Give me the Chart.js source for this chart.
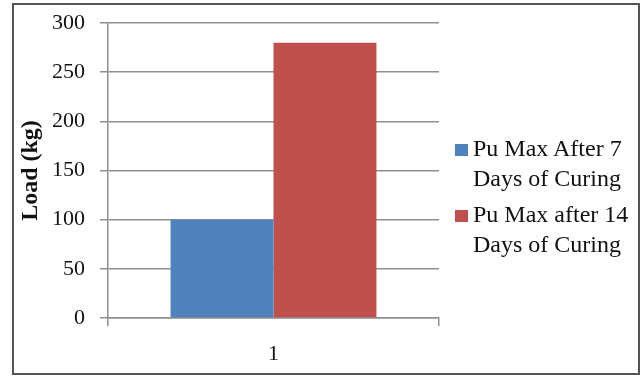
<!DOCTYPE html>
<html>
<head>
<meta charset="utf-8">
<script src="https://cdn.jsdelivr.net/npm/chart.js@4"></script>
<style>
  html, body { margin: 0; padding: 0; background: #fff; }
  #wrap { position: relative; width: 643px; height: 376px; }
  #frame {
    position: absolute; left: 12px; top: 3px; width: 624px; height: 368px;
    border: 2px solid #555; pointer-events: none;
  }
  canvas { position: absolute; left: 0; top: 0; }
  #legend {
    position: absolute; left: 455px; top: 134px;
    font-family: 'Liberation Serif', 'Times New Roman', serif;
    font-size: 24px; line-height: 29.5px; color: #111;
  }
  .item { position: absolute; left: 0; white-space: nowrap; }
  .swatch { position: absolute; left: 0; top: 10px; width: 13px; height: 12px; }
  .text { position: absolute; left: 18px; top: 0; }
</style>
</head>
<body>
<div id="wrap">
  <canvas id="chart" width="643" height="376"></canvas>
  <div id="legend"></div>
  <div id="frame"></div>
</div>
<script>
// Categories and series
const categories = ['1'];
const series7DayLabel = ['Pu Max After 7', 'Days of Curing'];
const series14DayLabel = ['Pu Max after 14', 'Days of Curing'];
const pu7Days = [100];
const pu14Days = [280];
const yTicks = [0, 50, 100, 150, 200, 250, 300];

const serif = "'Liberation Serif', 'Times New Roman', serif";
const gridGray = '#8e8e8e';

const chart = new Chart(document.getElementById('chart'), {
  type: 'bar',
  data: {
    labels: categories,
    datasets: [
      { label: series7DayLabel, data: pu7Days, backgroundColor: '#4F81BD' },
      { label: series14DayLabel, data: pu14Days, backgroundColor: '#C0504D' }
    ]
  },
  options: {
    responsive: false,
    animation: false,
    layout: { padding: { left: 14, top: 23, right: 204, bottom: 4 } },
    datasets: { bar: { categoryPercentage: 0.622, barPercentage: 1.0 } },
    scales: {
      x: {
        offset: true,
        grid: {
          offset: true, drawOnChartArea: false, drawTicks: true,
          tickLength: 8, color: gridGray, lineWidth: 1.5
        },
        border: { color: gridGray, width: 1.5 },
        ticks: { font: { family: serif, size: 22 }, color: '#111', padding: 15 },
        afterFit: (s) => { s.height = 54; }
      },
      y: {
        min: yTicks[0],
        max: yTicks[yTicks.length - 1],
        afterBuildTicks: (s) => { s.ticks = yTicks.map(v => ({ value: v })); },
        grid: { color: gridGray, lineWidth: 1.5, tickLength: 8 },
        border: { color: gridGray, width: 1.5 },
        ticks: { font: { family: serif, size: 22 }, color: '#111', padding: 15 },
        title: {
          display: true, text: 'Load (kg)', color: '#111',
          font: { family: serif, size: 24, weight: 'bold' },
          padding: { top: 2, bottom: 0 }
        },
        afterFit: (s) => {
          s.width = 94;
          // keep the tick-label gap from adding vertical room above/below the plot
          s.paddingTop = 0;
          s.paddingBottom = 0;
        }
      }
    },
    plugins: {
      tooltip: { enabled: false },
      legend: { display: false }
    }
  }
});

// Legend built from the chart's datasets, placed right of the plot area
const legendEl = document.getElementById('legend');
const itemOffsets = [0, 66];
chart.data.datasets.forEach((ds, i) => {
  const item = document.createElement('div');
  item.className = 'item';
  item.style.top = itemOffsets[i] + 'px';
  const sw = document.createElement('div');
  sw.className = 'swatch';
  sw.style.background = ds.backgroundColor;
  const tx = document.createElement('div');
  tx.className = 'text';
  tx.innerHTML = ds.label.map(s => s.replace(/&/g, '&amp;').replace(/</g, '&lt;')).join('<br>');
  item.appendChild(sw);
  item.appendChild(tx);
  legendEl.appendChild(item);
});
</script>
</body>
</html>
